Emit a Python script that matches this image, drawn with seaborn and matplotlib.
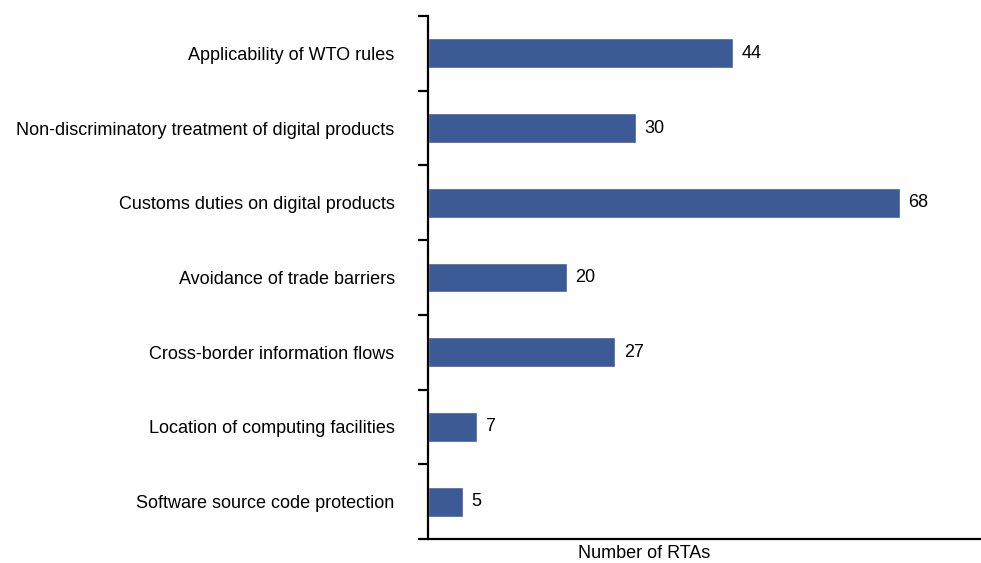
import matplotlib
matplotlib.use("Agg")
import matplotlib.pyplot as plt
import seaborn as sns
import pandas as pd
import numpy as np

provisions = [
    "Applicability of WTO rules",
    "Non-discriminatory treatment of digital products",
    "Customs duties on digital products",
    "Avoidance of trade barriers",
    "Cross-border information flows",
    "Location of computing facilities",
    "Software source code protection",
]
rta_counts = [44, 30, 68, 20, 27, 7, 5]

df = pd.DataFrame({"provision": provisions, "count": rta_counts})

sns.set_theme(style="white")
plt.rcParams["font.family"] = ["Liberation Sans", "DejaVu Sans"]

W, H = 981, 563
fig = plt.figure(figsize=(W / 100, H / 100), dpi=100)
ax = fig.add_axes([428 / W, 1 - 539 / H, 1 - 428 / W, (539 - 16) / H])

sns.barplot(data=df, x="count", y="provision", orient="h", color="#3C5A96",
            saturation=1, width=0.4, ax=ax)

ax.set_xlim(0, 79.7)
ax.set_ylim(len(provisions) - 0.5, -0.5)

for i, v in enumerate(rta_counts):
    ax.annotate(str(v), (v, i), xytext=(6, 0), textcoords="offset points",
                va="center", ha="left", fontsize=13, color="black")

sns.despine(ax=ax, top=True, right=True)
for side in ("left", "bottom"):
    ax.spines[side].set_color("black")
    ax.spines[side].set_linewidth(1.6)

ax.set_xticks([])
ax.set_yticks(range(len(provisions)))
ax.set_yticklabels(provisions, fontsize=13, color="black")
ax.set_yticks(np.arange(-0.5, len(provisions)), minor=True)
ax.tick_params(axis="y", which="major", length=0, pad=24)
ax.tick_params(axis="y", which="minor", length=7, width=1.6, color="black", left=True)

ax.set_ylabel("")
ax.set_xlabel("")
fig.text(644 / W, 1 - 553 / H, "Number of RTAs", ha="center", va="center",
         fontsize=13, color="black")

fig.savefig("out.png", dpi=100)
